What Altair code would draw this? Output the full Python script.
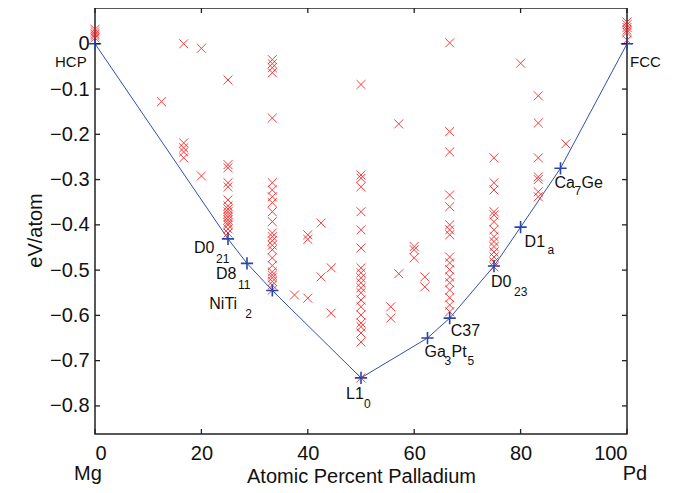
import altair as alt
import pandas as pd

# ---------------- data ----------------
# convex hull (ground states)
hull_x = [0, 25, 28.57, 33.33, 50, 62.5, 66.67, 75, 80, 87.5, 100]
hull_e = [0, -0.431, -0.485, -0.545, -0.738, -0.650, -0.606, -0.491, -0.405, -0.275, 0]

# calculated structures (red crosses), grouped by composition
cols = {
    0: [0.032, 0.027, 0.022, 0.018, 0.013],
    12.5: [-0.128],
    16.67: [0.0, -0.219, -0.230, -0.239, -0.252],
    20: [-0.010, -0.292],
    25: [-0.080, -0.267, -0.274, -0.307, -0.316, -0.345, -0.358, -0.365, -0.371, -0.377,
         -0.383, -0.389, -0.395, -0.400, -0.409, -0.418],
    33.33: [-0.035, -0.044, -0.053, -0.064, -0.164, -0.307, -0.323, -0.338, -0.351, -0.371,
            -0.393, -0.418, -0.426, -0.435, -0.445, -0.455, -0.473, -0.490, -0.504, -0.511,
            -0.517, -0.525, -0.533, -0.544],
    37.5: [-0.555],
    40: [-0.422, -0.432, -0.562],
    42.5: [-0.396, -0.515],
    44.4: [-0.495, -0.595],
    50: [-0.090, -0.290, -0.297, -0.316, -0.371, -0.411, -0.451, -0.495, -0.506, -0.517,
         -0.528, -0.539, -0.550, -0.566, -0.581, -0.599, -0.617, -0.625, -0.639, -0.659, -0.738],
    55.6: [-0.581, -0.606],
    57.1: [-0.177, -0.508],
    60: [-0.448, -0.455, -0.473],
    62: [-0.515, -0.537],
    66.67: [0.002, -0.194, -0.239, -0.334, -0.360, -0.400, -0.411, -0.422, -0.471, -0.484,
            -0.499, -0.515, -0.528, -0.544, -0.561, -0.577, -0.592],
    75: [-0.252, -0.307, -0.323, -0.371, -0.378, -0.393, -0.411, -0.426, -0.437, -0.448,
         -0.460, -0.471, -0.482, -0.493],
    80: [-0.043],
    83.33: [-0.115, -0.175, -0.252, -0.294, -0.300, -0.327, -0.338],
    88.5: [-0.221],
    100: [0.048, 0.042, 0.036, 0.030, 0.025, 0.008],
}

x_ticks = [0, 20, 40, 60, 80, 100]
y_ticks = [0, -0.1, -0.2, -0.3, -0.4, -0.5, -0.6, -0.7, -0.8]

# structure labels: (hull index, text, dx, dy, font size)
label_parts = [
    (0, "HCP", -40, 23, 15),
    (1, "D0", -34, 14, 16), (1, "21", -12, 24, 12),
    (2, "D8", -31, 16, 16), (2, "11", -9, 26, 12),
    (3, "NiTi", -63, 19, 16), (3, "2", -27, 28, 12),
    (4, "L1", -15, 21, 16), (4, "0", 3, 30, 12),
    (5, "Ga", -3, 19, 16), (5, "3", 17, 27, 12), (5, "Pt", 24, 19, 16), (5, "5", 40, 27, 12),
    (6, "C37", 1, 18, 16),
    (7, "D0", -3, 21, 16), (7, "23", 20, 30, 12),
    (8, "D1", 4, 20, 16), (8, "a", 27, 27, 12),
    (9, "Ca", -6, 20, 16), (9, "7", 14, 27, 12), (9, "Ge", 21, 20, 16),
    (10, "FCC", 3, 23, 15),
]

ends_x = [0, 100]
ends_txt = ["Mg", "Pd"]
ends_dx = [-7, 8]

# ---------------- chart ----------------
W, H = 532, 426
FONT = "Liberation Sans"
xs = alt.Scale(domain=[0, 100], nice=False, zero=False)
ys = alt.Scale(domain=[-0.862, 0.079], nice=False, zero=False)

pts = pd.DataFrame([(x, e) for x, es in cols.items() for e in es], columns=["x", "e"])
hull = pd.DataFrame({"x": hull_x, "e": hull_e})

xaxis = alt.Axis(values=x_ticks, ticks=False, domain=False, grid=False, labelFontSize=20,
                 labelFont=FONT, labelColor="#111", labelPadding=9, title="Atomic Percent Palladium",
                 titleFont=FONT, titleFontSize=20, titleFontWeight="normal", titleColor="#111",
                 titlePadding=3)
yaxis = alt.Axis(values=y_ticks, ticks=False, domain=False, grid=False, labelFontSize=20,
                 labelFont=FONT, labelColor="#111", labelPadding=6,
                 labelExpr="datum.value == 0 ? '0' : format(datum.value, '.1f')",
                 title="eV/atom", titleFont=FONT, titleFontSize=20, titleFontWeight="normal",
                 titleColor="#111", titleX=-50, titleY=222)

cross = (alt.Chart(pts)
         .mark_point(shape="M-1,-1L1,1M-1,1L1,-1", size=80, filled=False, color="#ff1a1a",
                     strokeWidth=1, opacity=0.85)
         .encode(x=alt.X("x:Q", scale=xs, axis=xaxis), y=alt.Y("e:Q", scale=ys, axis=yaxis)))

line = (alt.Chart(hull).mark_line(color="#3050b0", strokeWidth=1)
        .encode(x=alt.X("x:Q", scale=xs), y=alt.Y("e:Q", scale=ys)))
plus = (alt.Chart(hull)
        .mark_point(shape="M-1,0L1,0M0,-1L0,1", size=150, filled=False, color="#2846a8",
                    strokeWidth=1.6, opacity=1)
        .encode(x=alt.X("x:Q", scale=xs), y=alt.Y("e:Q", scale=ys)))

layers = [cross, line, plus]

# inward ticks on all four sides
xt = pd.DataFrame({"x": x_ticks})
yt = pd.DataFrame({"e": y_ticks})
tick_style = dict(color="#222", strokeWidth=1.3)
layers.append(alt.Chart(xt).mark_rule(**tick_style).encode(
    x=alt.X("x:Q", scale=xs), y=alt.value(H), y2=alt.value(H - 5)))
layers.append(alt.Chart(xt).mark_rule(**tick_style).encode(
    x=alt.X("x:Q", scale=xs), y=alt.value(0), y2=alt.value(5)))
layers.append(alt.Chart(yt).mark_rule(**tick_style).encode(
    y=alt.Y("e:Q", scale=ys), x=alt.value(0), x2=alt.value(5)))
layers.append(alt.Chart(yt).mark_rule(**tick_style).encode(
    y=alt.Y("e:Q", scale=ys), x=alt.value(W - 5), x2=alt.value(W)))

# structure labels
for idx, txt, dx, dy, fs in label_parts:
    d = pd.DataFrame({"x": [hull_x[idx]], "e": [hull_e[idx]], "t": [txt]})
    layers.append(alt.Chart(d).mark_text(align="left", baseline="alphabetic", dx=dx, dy=dy,
                                         fontSize=fs, font=FONT, color="#111")
                  .encode(x=alt.X("x:Q", scale=xs), y=alt.Y("e:Q", scale=ys), text="t:N"))

# element names under the axis ends
for ex, et, edx in zip(ends_x, ends_txt, ends_dx):
    d = pd.DataFrame({"x": [ex], "t": [et]})
    layers.append(alt.Chart(d).mark_text(align="center", baseline="alphabetic", fontSize=20,
                                         font=FONT, color="#111", dx=edx)
                  .encode(x=alt.X("x:Q", scale=xs), y=alt.value(H + 46), text="t:N"))

chart = (alt.layer(*layers)
         .properties(width=W, height=H, autosize=alt.AutoSizeParams(type="none"),
                     padding={"left": 87, "top": 0, "right": 42, "bottom": 51},
                     background="white")
         .configure_view(stroke="#222", strokeWidth=1.5))

chart.save("out.html", embed_options={"renderer": "svg", "actions": False})
